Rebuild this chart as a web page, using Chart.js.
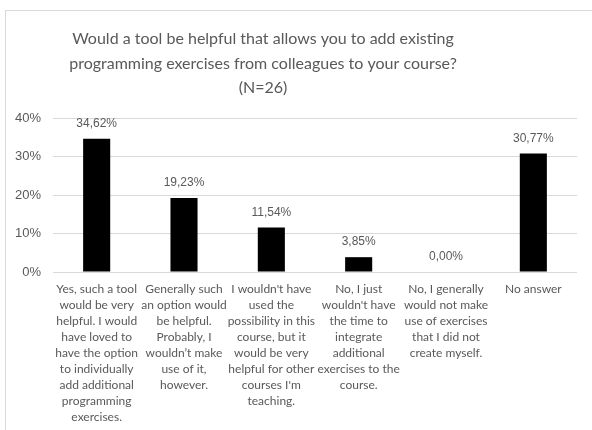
<!DOCTYPE html>
<html>
<head>
<meta charset="utf-8">
<script src="https://cdn.jsdelivr.net/npm/chart.js@4/dist/chart.umd.min.js"></script>
<style>
  html, body { margin: 0; padding: 0; background: #fff; }
  #wrap { position: relative; width: 592px; height: 430px; overflow: hidden; }
  #frame { position: absolute; left: 5px; top: 10px; width: 700px; height: 500px; border: 1px solid #d9d9d9; }
  #chart { position: absolute; left: 0; top: 0; }
</style>
</head>
<body>
<div id="wrap">
  <div id="frame"></div>
  <canvas id="chart" width="592" height="430"></canvas>
</div>
<script>
// survey answers, percent of respondents
const titleLines = [
  "Would a tool be helpful that allows you to add existing",
  "programming exercises from colleagues to your course?",
  "(N=26)"
];

const categories = [
  ["Yes, such a tool", "would be very", "helpful. I would", "have loved to", "have the option", "to individually", "add additional", "programming", "exercises."],
  ["Generally such", "an option would", "be helpful.", "Probably, I", "wouldn\u2019t make", "use of it,", "however."],
  ["I wouldn't have", "used the", "possibility in this", "course, but it", "would be very", "helpful for other", "courses I'm", "teaching."],
  ["No, I just", "wouldn't have", "the time to", "integrate", "additional", "exercises to the", "course."],
  ["No, I generally", "would not make", "use of exercises", "that I did not", "create myself."],
  ["No answer"]
];

const shares = [34.62, 19.23, 11.54, 3.85, 0.00, 30.77];
const shareLabels = ["34,62%", "19,23%", "11,54%", "3,85%", "0,00%", "30,77%"];

const yTicks = [0, 10, 20, 30, 40];

const GREY = "#595959";

// title, centred a bit left of the plot like the source workbook
const titlePlugin = {
  id: "titleText",
  afterDraw(chart) {
    const ctx = chart.ctx;
    ctx.save();
    ctx.fillStyle = GREY;
    ctx.font = "16px Lato";
    ctx.textAlign = "center";
    ctx.textBaseline = "middle";
    titleLines.forEach((line, i) => ctx.fillText(line, 263, 39 + i * 24.5));
    ctx.restore();
  }
};

// value labels above each bar
const valueLabels = {
  id: "valueLabels",
  afterDatasetsDraw(chart) {
    const ctx = chart.ctx;
    const meta = chart.getDatasetMeta(0);
    ctx.save();
    ctx.fillStyle = GREY;
    ctx.font = "12px 'Liberation Sans'";
    ctx.textAlign = "center";
    ctx.textBaseline = "middle";
    meta.data.forEach((bar, i) => {
      ctx.fillText(shareLabels[i], bar.x, bar.y - 15);
    });
    ctx.restore();
  }
};

new Chart(document.getElementById("chart"), {
  type: "bar",
  data: {
    labels: categories,
    datasets: [{
      data: shares,
      backgroundColor: "#000000",
      barPercentage: 0.31,
      categoryPercentage: 1
    }]
  },
  options: {
    responsive: false,
    animation: false,
    layout: { padding: { top: 118, right: 15, bottom: 0, left: 0 } },
    plugins: {
      legend: { display: false },
      title: { display: false },
      tooltip: { enabled: false }
    },
    scales: {
      x: {
        grid: { display: false },
        border: { display: false },
        ticks: {
          color: GREY,
          font: { family: "Lato", size: 12, lineHeight: 16 / 12 },
          padding: 1,
          maxRotation: 0,
          autoSkip: false
        },
        afterFit(scale) { scale.height = 158; }
      },
      y: {
        min: 0,
        max: 40,
        afterBuildTicks(scale) { scale.ticks = yTicks.map(v => ({ value: v })); },
        grid: { color: "#d9d9d9", drawTicks: false },
        border: { display: false },
        ticks: {
          color: GREY,
          font: { family: "Liberation Sans", size: 13 },
          padding: 12,
          callback: v => v + "%"
        },
        afterFit(scale) { scale.width = 53; }
      }
    }
  },
  plugins: [titlePlugin, valueLabels]
});
</script>
</body>
</html>
